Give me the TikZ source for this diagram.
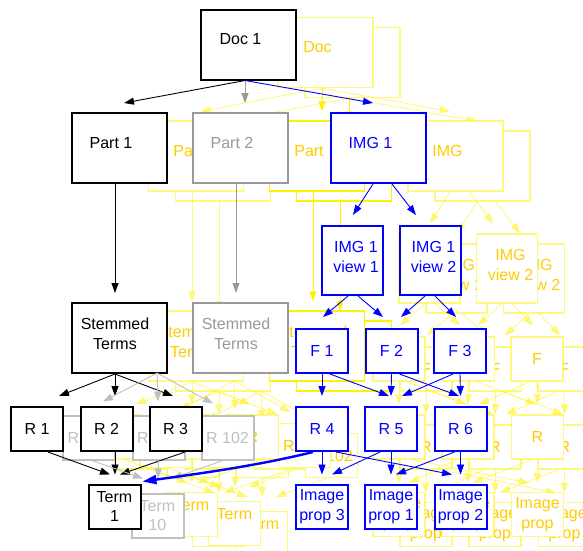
\documentclass[tikz,border=0pt]{standalone}
\usepackage{fontspec}
\setmainfont{Liberation Sans}
\usetikzlibrary{arrows.meta}
\usepackage{xcolor}

\definecolor{gold}{RGB}{255,204,0}
\definecolor{midgray}{RGB}{153,153,153}
\definecolor{palegray}{RGB}{192,192,192}

% all straight connectors of one copy of the graph, #1 = name prefix
\newcommand{\edges}[1]{%
  \draw[ka] ([xshift=-3.5pt]#1doc.south) -- ([xshift=5pt,yshift=9pt]#1part1.north);
  \draw[ga] ([xshift=-3.5pt]#1doc.south) -- ([xshift=5pt,yshift=9pt]#1part2.north);
  \draw[ba] ([xshift=-3.5pt]#1doc.south) -- ([xshift=-5.5pt,yshift=9pt]#1img1.north);
  \draw[ka] ([xshift=-4pt]#1part1.south) -- ([xshift=-4pt,yshift=9pt]#1stem1.north);
  \draw[ga] ([xshift=-4pt]#1part2.south) -- ([xshift=-4pt,yshift=9pt]#1stem2.north);
  \draw[ka] ([xshift=-4pt]#1stem1.south) -- ([xshift=22pt,yshift=10pt]#1r1.north);
  \draw[ka] ([xshift=-4pt]#1stem1.south) -- ([xshift=8.5pt,yshift=10pt]#1r2.north);
  \draw[ka] ([xshift=-4pt]#1stem1.south) -- ([xshift=-2.5pt,yshift=10pt]#1r3.north);
  \draw[la] (#1gsrc) -- ([xshift=14pt,yshift=13pt]#1r100.north);
  \draw[la] (#1gsrc) -- ([xshift=-0.5pt,yshift=13pt]#1r101.north);
  \draw[la] (#1gsrc) -- ([xshift=-14.5pt,yshift=11pt]#1r102.north);
  \draw[ka] ([xshift=11pt]#1r1.south) -- ([xshift=-4.5pt,yshift=9pt]#1term1.north);
  \draw[ka] ([xshift=8.5pt]#1r2.south) -- ([xshift=0.5pt,yshift=9pt]#1term1.north);
  \draw[ka] ([xshift=9.5pt]#1r3.south) -- ([xshift=5.5pt,yshift=9pt]#1term1.north);
  \draw[la] ([xshift=3pt]#1r100.south) -- ([xshift=-14.5pt,yshift=14pt]#1term10.north);
  \draw[la] (#1r101.south) -- ([xshift=0.5pt,yshift=14pt]#1term10.north);
  \draw[la] ([xshift=-4.5pt]#1r102.south) -- ([xshift=14.5pt,yshift=14pt]#1term10.north);
  \draw[ba] ([xshift=-5.5pt]#1img1.south) -- ([xshift=0.5pt,yshift=10pt]#1view1.north);
  \draw[ba] ([xshift=13.5pt]#1img1.south) -- ([xshift=-14pt,yshift=10pt]#1view2.north);
  \draw[ba] ([xshift=-4.5pt]#1view1.south) -- ([xshift=1pt,yshift=11pt]#1f1.north);
  \draw[ba] ([xshift=5.5pt]#1view1.south) -- ([xshift=-8.5pt,yshift=11pt]#1f2.north);
  \draw[ba] ([xshift=-5pt]#1view2.south) -- ([xshift=9.5pt,yshift=11pt]#1f2.north);
  \draw[ba] ([xshift=5pt]#1view2.south) -- ([xshift=-4pt,yshift=11pt]#1f3.north);
  \draw[ba] (#1f1.south) -- ([yshift=10pt]#1r4.north);
  \draw[ba] ([xshift=8pt]#1f1.south) -- ([xshift=-2pt,yshift=10pt]#1r5.north);
  \draw[ba] (#1f2.south) -- ([yshift=10pt]#1r5.north);
  \draw[ba] ([xshift=8pt]#1f2.south) -- ([xshift=-1.5pt,yshift=10pt]#1r6.north);
  \draw[ba] ([xshift=-7pt]#1f3.south) -- ([xshift=11pt,yshift=10pt]#1r5.north);
  \draw[ba] (#1f3.south) -- ([yshift=10pt]#1r6.north);
  \draw[ba] (#1r4.south) -- ([yshift=9pt]#1ip3.north);
  \draw[ba] ([xshift=14pt]#1r4.south) -- ([xshift=-8.5pt,yshift=9pt]#1ip2.north);
  \draw[ba] ([xshift=-11pt]#1r5.south) -- ([xshift=10pt,yshift=9pt]#1ip3.north);
  \draw[ba] (#1r5.south) -- ([yshift=9pt]#1ip1.north);
  \draw[ba] ([xshift=-6pt]#1r6.south) -- ([xshift=5pt,yshift=9pt]#1ip1.north);
  \draw[ba] (#1r6.south) -- ([yshift=9pt]#1ip2.north);
}

\tikzset{
  every node/.style={font=\fontsize{16}{19.5}\selectfont, align=center},
  box/.style={rectangle, draw=#1, text=#1, fill=white, line width=2pt, inner sep=0pt},
  ghost/.style={rectangle, draw=yellow, draw opacity=0.5, text=gold, fill=white, line width=1.4pt, inner sep=0pt},
  hot/.style={draw opacity=1},
  big/.style={minimum width=95pt, minimum height=70pt},
  tall/.style={minimum width=61pt, minimum height=69pt},
  small/.style={minimum width=52pt, minimum height=44pt},
  off/.style n args={4}{label={[text=#1, align=center, xshift=#2, yshift=#3]center:#4}},
  tip/.style={-{Triangle[length=10pt, width=7pt]}, line width=0.9pt},
  ka/.style={tip, black},
  ga/.style={tip, midgray},
  la/.style={tip, palegray},
  ba/.style={tip, blue},
  ya/.style={tip, yellow, opacity=0.5},
}

\begin{document}
\begin{tikzpicture}[x=1pt, y=-1pt]
\useasboundingbox (0,0) rectangle (583,550);

% yellow copies behind
\foreach \dx/\dy/\g in {104/18/b, 77/8/a} {
\begin{scope}[shift={(\dx,\dy)}, ka/.style={ya}, ba/.style={ya}, la/.style={ya}, ga/.style={ya, opacity=1}]
  \node[ghost, big, off={gold}{-8pt}{5pt}{Doc}] (\g doc) at (248.5,44.5) {};
  \node[ghost, big, off={gold}{-8pt}{5pt}{Part}] (\g part1) at (119,148) {};
  \node[ghost, hot, big, off={gold}{-8pt}{5pt}{Part}] (\g part2) at (240,148) {};
  \node[ghost, big, off={gold}{-8pt}{5pt}{IMG}] (\g img1) at (378.5,148) {};
  \node[ghost, tall, off={gold}{3.5pt}{3.5pt}{IMG\\view 1}] (\g view1) at (352.5,260.5) {};
  \node[ghost, tall, off={gold}{3.5pt}{3.5pt}{IMG\\view 2}] (\g view2) at (430,260.5) {};
  \node[ghost, big, off={gold}{-4pt}{4pt}{Stemmed\\Terms}] (\g stem1) at (119,338) {};
  \node[ghost, hot, big, off={gold}{-4pt}{4pt}{Stemmed\\Terms}] (\g stem2) at (240,338) {};
  \coordinate (\g gsrc) at (157,373);
  \node[ghost, small] (\g r100) at (89,437.5) {R};
  \node[ghost, small] (\g r101) at (158.5,437.5) {R};
  \node[ghost, small] (\g r102) at (227.5,437.5) {R 102};
  \node[ghost, small] (\g term10) at (157.5,515.5) {Term\\\mbox{}};
  \node[ghost, small] (\g r1) at (37,429) {R};
  \node[ghost, small] (\g r2) at (106.5,429) {R};
  \node[ghost, small] (\g r3) at (175.5,429) {R};
  \node[ghost, small] (\g term1) at (114.5,506.5) {Term\\\mbox{}};
  \node[ghost, small] (\g f1) at (322,351) {F};
  \node[ghost, small] (\g f2) at (391.5,351) {F};
  \node[ghost, small] (\g f3) at (460,351) {F};
  \node[ghost, small] (\g r4) at (322,429) {R};
  \node[ghost, small] (\g r5) at (391,429) {R};
  \node[ghost, small] (\g r6) at (460.5,429) {R};
  \node[ghost, small] (\g ip3) at (322,506.5) {Image\\prop};
  \node[ghost, small] (\g ip1) at (391,506.5) {Image\\prop};
  \node[ghost, small] (\g ip2) at (460.5,506.5) {Image\\prop};
  \edges{\g}
\end{scope}
}

% gray part
\node[box=midgray, big, off={midgray}{-8pt}{5pt}{Part 2}] (part2) at (240,148) {};
\node[box=midgray, big, off={midgray}{-4pt}{4pt}{Stemmed\\Terms}] (stem2) at (240,338) {};
\coordinate (gsrc) at (157,373);
\node[box=palegray, small] (r100) at (89,437.5) {R 100};
\node[box=palegray, small] (r101) at (158.5,437.5) {R 101};
\node[box=palegray, small] (r102) at (227.5,437.5) {R 102};
\node[box=palegray, small] (term10) at (157.5,515.5) {Term\\10};

% black part
\node[box=black, big, off={black}{-8pt}{5pt}{Doc 1}] (doc) at (248.5,44.5) {};
\node[box=black, big, off={black}{-8pt}{5pt}{Part 1}] (part1) at (119,148) {};
\node[box=black, big, off={black}{-4pt}{4pt}{Stemmed\\Terms}] (stem1) at (119,338) {};
\node[box=black, small] (r1) at (37,429) {R 1};
\node[box=black, small] (r2) at (106.5,429) {R 2};
\node[box=black, small] (r3) at (175.5,429) {R 3};
\node[box=black, small] (term1) at (114.5,506.5) {Term\\1};

% blue part
\node[box=blue, big, off={blue}{-8pt}{5pt}{IMG 1}] (img1) at (378.5,148) {};
\node[box=blue, tall, off={blue}{3.5pt}{3.5pt}{IMG 1\\view 1}] (view1) at (352.5,260.5) {};
\node[box=blue, tall, off={blue}{3.5pt}{3.5pt}{IMG 1\\view 2}] (view2) at (430,260.5) {};
\node[box=blue, small] (f1) at (322,351) {F 1};
\node[box=blue, small] (f2) at (391.5,351) {F 2};
\node[box=blue, small] (f3) at (460,351) {F 3};
\node[box=blue, small] (r4) at (322,429) {R 4};
\node[box=blue, small] (r5) at (391,429) {R 5};
\node[box=blue, small] (r6) at (460.5,429) {R 6};
\node[box=blue, small] (ip3) at (322,506.5) {Image\\prop 3};
\node[box=blue, small] (ip1) at (391,506.5) {Image\\prop 1};
\node[box=blue, small] (ip2) at (460.5,506.5) {Image\\prop 2};

\edges{}
\draw[blue, line width=2.4pt, -{Triangle[length=14pt, width=9pt]}]
  ([xshift=-9pt]r4.south) .. controls +(-57,14) and +(57,-8) .. ([xshift=1pt,yshift=2pt]term1.north east);

\end{tikzpicture}
\end{document}
